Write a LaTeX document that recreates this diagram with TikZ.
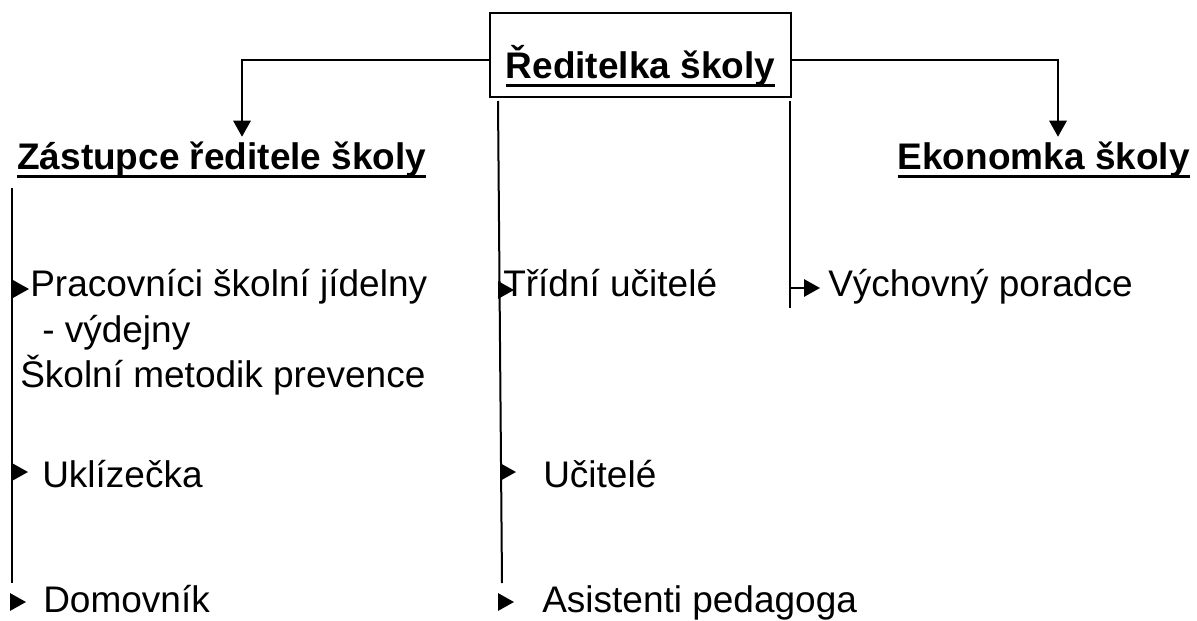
\documentclass[tikz,border=0pt]{standalone}
\usepackage{fontspec}
\setmainfont{Liberation Sans}
\usetikzlibrary{arrows.meta}
\newcommand\ulin[1]{\setbox0\hbox{#1}\rlap{\rule[-6.8pt]{\wd0}{2.25pt}}\box0}
\newcommand\orgfont{\fontsize{27.75}{33}\selectfont}

\begin{document}
\begin{tikzpicture}[x=0.75pt, y=-0.75pt,
    every node/.style={inner sep=0pt},
    font=\orgfont,
    item/.style={anchor=base west},
    head/.style={font=\orgfont\bfseries, text height=24pt},
    trunk/.style={line width=1.5pt},
    arr/.style={line width=1.5pt, -{Triangle[length=12pt, width=13pt]}},
    down/.style={line width=1.5pt, -{Triangle[length=12pt, width=13pt]}}]
  \useasboundingbox (0,0) rectangle (1197,621);
  \node[draw, line width=1.5pt, minimum width=225.75pt, text height=48.75pt, text depth=14.25pt, anchor=north, font=\orgfont\bfseries] (dir) at (640.5,12) {\ulin{Ředitelka školy}};
  \node[head, anchor=base west] (zast) at (17,169) {\ulin{Zástupce ředitele školy}};
  \node[head, anchor=base east] (ekon) at (1190,169) {\ulin{Ekonomka školy}};
  \node[item] (prac) at (30,296) {Pracovníci školní jídelny};
  \node[item] (vydej) at (42,342) {- výdejny};
  \node[item] (metod) at (20,387) {Školní metodik prevence};
  \node[item] (ukliz) at (42,487) {Uklízečka};
  \node[item] (domov) at (43,612) {Domovník};
  \node[item] (trid) at (503,296) {Třídní učitelé};
  \node[item] (ucit) at (543,487) {Učitelé};
  \node[item] (asist) at (542,612) {Asistenti pedagoga};
  \node[item] (vych) at (828,296) {Výchovný poradce};
  % Draw the links from the head
  \draw[down] ([yshift=-3.75pt]dir.west) -| (zast.north -| 242,0);
  \draw[down] ([yshift=-3.75pt]dir.east) -| (ekon.north -| 1058,0);
  \draw[trunk] (12,188) -- (12,583);
  \draw[trunk] ([yshift=-2.25pt]dir.south -| 498,0) -- (502,583);
  \draw[trunk] ([yshift=-2.25pt]dir.south -| 790,0) -- (790,308);
  % Draw the arrows to the staff
  \draw[arr] (12,289) -- (29,289);
  \draw[arr] (12,472) -- (28,472);
  \draw[arr] (10,602) -- (26,602);
  \draw[arr] (499,290) -- (514,290);
  \draw[arr] (501,472) -- (516,472);
  \draw[arr] (499,602) -- (514,602);
  \draw[arr] (790,288) -- (820,288);
\end{tikzpicture}
\end{document}
